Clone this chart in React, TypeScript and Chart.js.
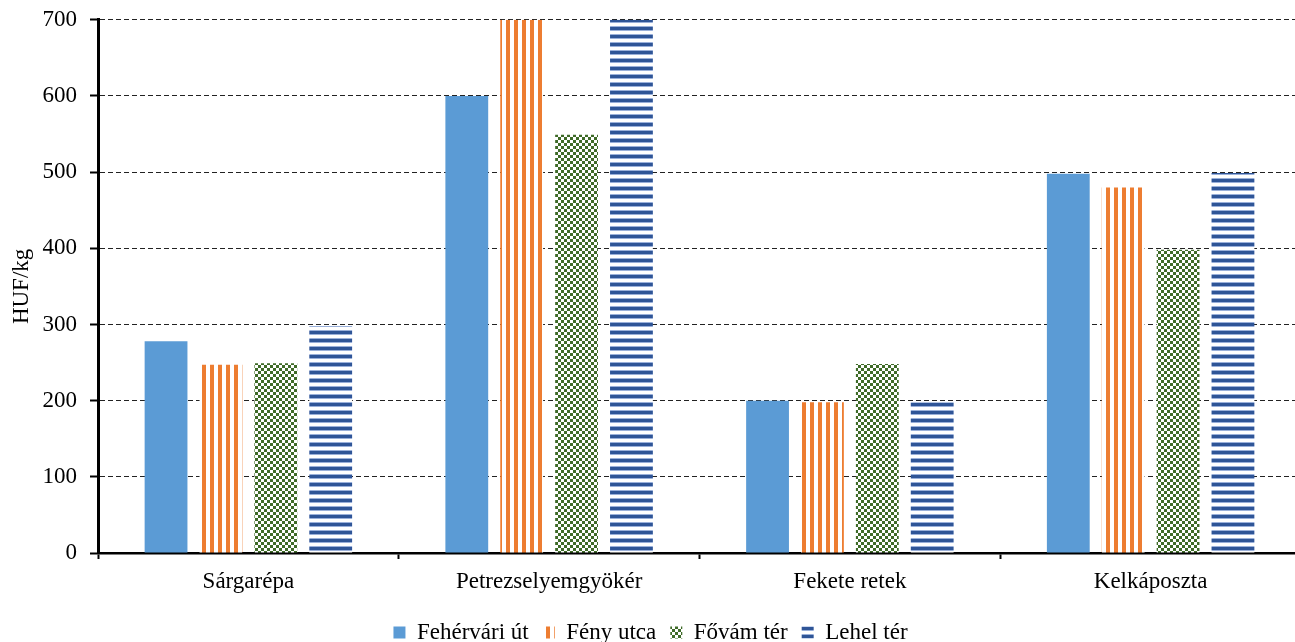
import React, { useEffect, useRef } from "react";
import { Chart, registerables } from "chart.js";

Chart.register(...registerables);

const categories = ["Sárgarépa", "Petrezselyemgyökér", "Fekete retek", "Kelkáposzta"];
const seriesNames = ["Fehérvári út", "Fény utca", "Fővám tér", "Lehel tér"];
const feherváriÚt = [278, 600, 200, 498];
const fényUtca = [247, 700, 198, 480];
const fővámTér = [249, 549, 248, 398];
const lehelTér = [298, 700, 198, 499];
const yTicks = [0, 100, 200, 300, 400, 500, 600, 700];

const FONT = "'Liberation Serif', 'Times New Roman', serif";
const FS = 23;

function makeTile(w: number, h: number, draw: (c: CanvasRenderingContext2D) => void) {
  const c = document.createElement("canvas");
  c.width = w;
  c.height = h;
  const ctx = c.getContext("2d")!;
  ctx.fillStyle = "#ffffff";
  ctx.fillRect(0, 0, w, h);
  draw(ctx);
  return c;
}

function makePatterns(ctx: CanvasRenderingContext2D) {
  const orange = makeTile(8, 8, (c) => {
    c.fillStyle = "#ED7D31";
    c.fillRect(2, 0, 4, 8);
  });
  const green = makeTile(6, 6, (c) => {
    c.fillStyle = "#3F6B28";
    c.fillRect(0, 0, 3, 3);
    c.fillRect(3, 3, 3, 3);
  });
  const navy = makeTile(8, 8, (c) => {
    c.fillStyle = "#9AB0DA";
    c.fillRect(0, 1, 8, 1);
    c.fillRect(0, 5, 8, 1);
    c.fillStyle = "#2F5597";
    c.fillRect(0, 2, 8, 3);
  });
  return {
    orange: ctx.createPattern(orange, "repeat")!,
    green: ctx.createPattern(green, "repeat")!,
    navy: ctx.createPattern(navy, "repeat")!,
  };
}

export default function App() {
  const ref = useRef<HTMLCanvasElement>(null);

  useEffect(() => {
    const canvas = ref.current!;
    const ctx = canvas.getContext("2d")!;
    const p = makePatterns(ctx);
    const values = [feherváriÚt, fényUtca, fővámTér, lehelTér];
    const fills: any[] = ["#5B9BD5", p.orange, p.green, p.navy];

    const chart = new Chart(canvas, {
      type: "bar",
      data: {
        labels: categories,
        datasets: seriesNames.map((name, i) => ({
          label: name,
          data: values[i],
          backgroundColor: fills[i],
          borderWidth: 0,
          categoryPercentage: 0.73,
          barPercentage: 0.78,
        })),
      },
      options: {
        responsive: false,
        animation: false,
        devicePixelRatio: 1,
        layout: { padding: { top: 15, right: 9, left: 0, bottom: 0 } },
        plugins: {
          tooltip: { enabled: false },
          legend: {
            position: "bottom",
            labels: {
              boxWidth: 12,
              boxHeight: 12,
              padding: 14,
              color: "#000",
              font: { family: FONT, size: FS },
            },
          },
        },
        scales: {
          x: {
            offset: true,
            afterFit: (s: any) => {
              s.height = 54;
            },
            grid: {
              offset: true,
              drawOnChartArea: false,
              drawTicks: true,
              tickLength: 6,
              tickColor: "#000",
              tickWidth: 2,
            },
            border: { display: true, color: "#000", width: 2.5 },
            ticks: {
              color: "#000",
              padding: 9,
              maxRotation: 0,
              font: { family: FONT, size: FS },
            },
          },
          y: {
            min: 0,
            max: 700,
            afterFit: (s: any) => {
              s.width = 98;
            },
            afterBuildTicks: (s: any) => {
              s.ticks = yTicks.map((v) => ({ value: v }));
            },
            grid: {
              color: "#222",
              lineWidth: 1,
              drawTicks: true,
              tickLength: 8,
              tickColor: "#000",
              tickWidth: 2,
              tickBorderDash: [],
            },
            border: { display: true, color: "#000", width: 3, dash: [5, 3] },
            ticks: {
              color: "#000",
              padding: 13,
              font: { family: FONT, size: FS },
            },
            title: {
              display: true,
              text: "HUF/kg",
              color: "#000",
              padding: { top: 8, bottom: 0 },
              font: { family: FONT, size: FS },
            },
          },
        },
      },
    });
    return () => chart.destroy();
  }, []);

  return (
    <div
      style={{
        position: "fixed",
        left: 0,
        top: 0,
        width: 1295,
        height: 642,
        overflow: "hidden",
        background: "#fff",
      }}
    >
      <canvas
        ref={ref}
        width={1310}
        height={661}
        style={{ display: "block", marginTop: -7 }}
      />
    </div>
  );
}
